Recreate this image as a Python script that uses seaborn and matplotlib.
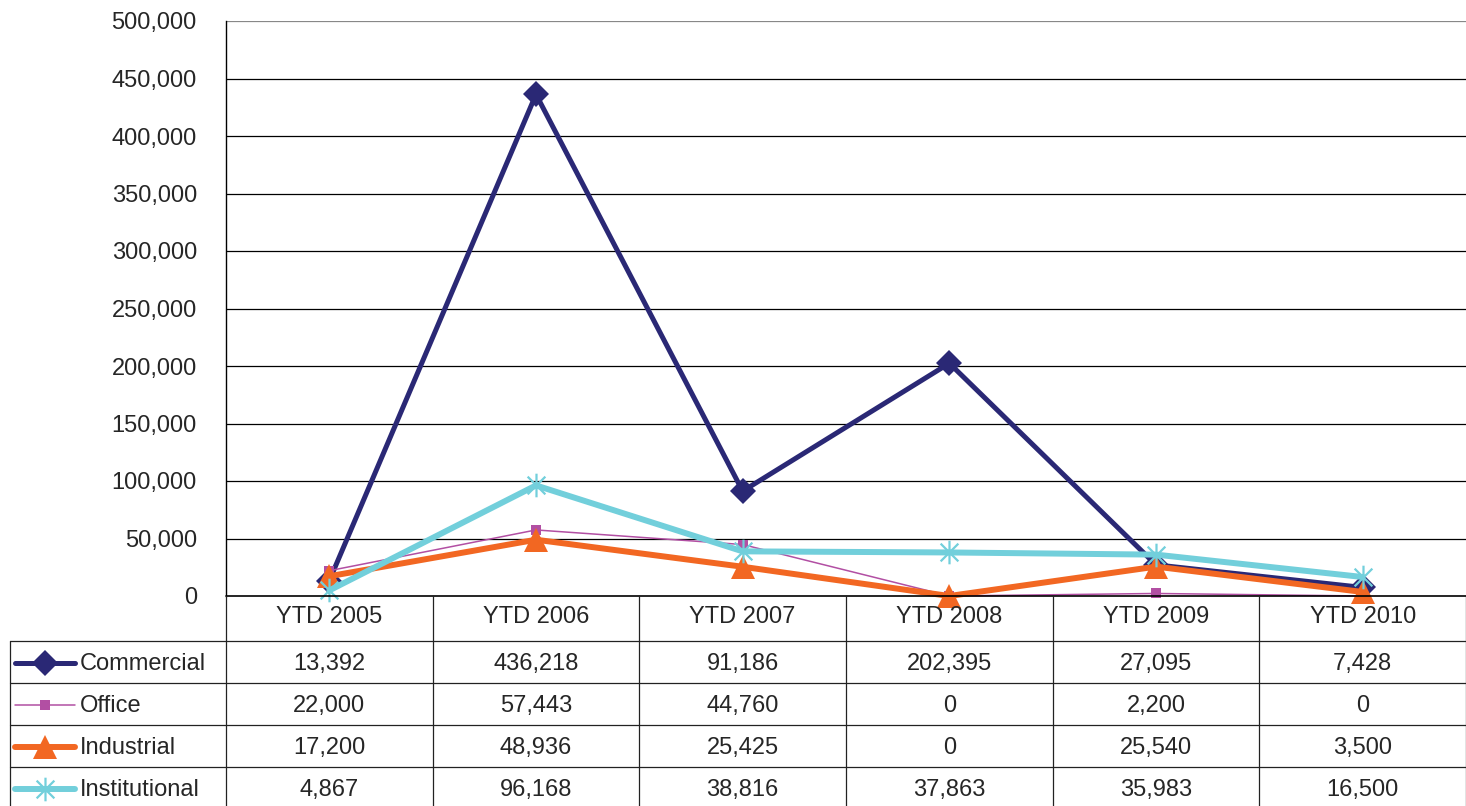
import numpy as np
import pandas as pd
import seaborn as sns
import matplotlib.pyplot as plt
from matplotlib.path import Path

# Data
years = ["YTD 2005", "YTD 2006", "YTD 2007", "YTD 2008", "YTD 2009", "YTD 2010"]
commercial = [13392, 436218, 91186, 202395, 27095, 7428]
office = [22000, 57443, 44760, 0, 2200, 0]
industrial = [17200, 48936, 25425, 0, 25540, 3500]
institutional = [4867, 96168, 38816, 37863, 35983, 16500]

series_names = ["Commercial", "Office", "Industrial", "Institutional"]
series_values = [commercial, office, industrial, institutional]

# Styles
star = Path([(0, -1), (0, 1), (-0.75, -0.75), (0.75, 0.75), (-0.75, 0.75), (0.75, -0.75)],
            [Path.MOVETO, Path.LINETO, Path.MOVETO, Path.LINETO, Path.MOVETO, Path.LINETO])
styles = {
    "Commercial": dict(color="#2A2875", lw=3.6, marker="D", ms=13, mew=0),
    "Office": dict(color="#B24FA3", lw=1.1, marker="s", ms=7, mew=0),
    "Industrial": dict(color="#F26722", lw=4.3, marker="^", ms=17, mew=0),
    "Institutional": dict(color="#72CFDB", lw=4.3, marker=star, ms=17, mew=1.6),
}

sns.set_style("white")
plt.rcParams["font.family"] = ["Liberation Sans", "DejaVu Sans"]
fs = 17

W, H = 1466, 806
fig = plt.figure(figsize=(W / 100, H / 100), dpi=100)

x0_px, top_px, axis_px = 226, 21, 596
ax = fig.add_axes([x0_px / W, (H - axis_px) / H, (W - x0_px) / W, (axis_px - top_px) / H])

df = pd.DataFrame({"x": list(range(len(years))) * 4,
                   "value": sum(series_values, []),
                   "series": np.repeat(series_names, len(years))})

for name in series_names:
    st = styles[name]
    sub = df[df["series"] == name]
    sns.lineplot(data=sub, x="x", y="value", ax=ax, color=st["color"], linewidth=st["lw"],
                 marker=st["marker"], markersize=st["ms"], markeredgewidth=st["mew"],
                 markeredgecolor=st["color"], clip_on=False, legend=False, zorder=3)

ax.set_xlim(-0.5, len(years) - 0.5)
ax.set_ylim(0, 500000)
ax.set_yticks(range(0, 500001, 50000))
ax.set_yticklabels([f"{v:,}" for v in range(0, 500001, 50000)], fontsize=fs)
ax.set_xticks([])
ax.set_xlabel("")
ax.set_ylabel("")
for v in range(50000, 500001, 50000):
    ax.axhline(v, color="black" if v < 500000 else "#888888", lw=0.9, zorder=1)
for s in ["top", "right", "bottom"]:
    ax.spines[s].set_visible(False)
ax.spines["left"].set_color("black")
ax.spines["left"].set_linewidth(1.0)
ax.tick_params(axis="y", direction="out", length=7, width=0.9, color="black", pad=14)

# Data table below the plot
col_w = (W - x0_px) / len(years)
px_to_x = lambda px: -0.5 + (px - x0_px) / col_w
tab_h = H - axis_px
tx = fig.add_axes([x0_px / W, 0, (W - x0_px) / W, tab_h / H], sharex=ax)
tx.set_ylim(tab_h, 0)
tx.axis("off")

row_edges = [0, 45, 87, 129, 171]
left_x = px_to_x(10)
line_kw = dict(color="#222222", lw=0.9, clip_on=False)
tx.plot([-0.5, len(years) - 0.5], [0, 0], color="black", lw=1.2, clip_on=False)
for y in row_edges[1:]:
    tx.plot([left_x, len(years) - 0.5], [y, y], **line_kw)
for k in range(len(years) + 1):
    tx.plot([k - 0.5, k - 0.5], [0, tab_h], **line_kw)
tx.plot([left_x, left_x], [row_edges[1], tab_h], **line_kw)

for i, yr in enumerate(years):
    tx.text(i, 21, yr, ha="center", va="center", fontsize=fs)

for r, (name, vals) in enumerate(zip(series_names, series_values)):
    yc = row_edges[r + 1] + 23
    st = styles[name]
    tx.plot([px_to_x(15), px_to_x(75)], [yc - 1, yc - 1], color=st["color"], lw=st["lw"],
            solid_capstyle="round", clip_on=False)
    tx.plot([px_to_x(45)], [yc - 1], marker=st["marker"], markersize=st["ms"], color=st["color"],
            markeredgecolor=st["color"], markeredgewidth=st["mew"], clip_on=False)
    tx.text(px_to_x(80), yc, name, ha="left", va="center", fontsize=fs)
    for i, v in enumerate(vals):
        tx.text(i, yc, f"{v:,}", ha="center", va="center", fontsize=fs)

fig.savefig("out.png", dpi=100)
